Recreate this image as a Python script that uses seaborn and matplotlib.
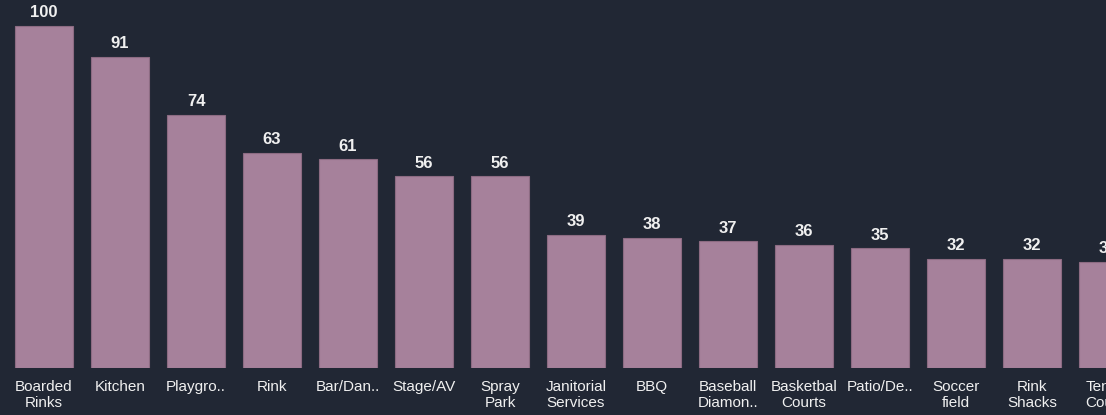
import pandas as pd
import matplotlib
matplotlib.use("Agg")
import matplotlib.pyplot as plt
import matplotlib.transforms as mtransforms
import seaborn as sns

# amenity counts
categories = ["Boarded\nRinks", "Kitchen", "Playgro..", "Rink", "Bar/Dan..",
              "Stage/AV", "Spray\nPark", "Janitorial\nServices", "BBQ",
              "Baseball\nDiamon..", "Basketbal\nCourts", "Patio/De..",
              "Soccer\nfield", "Rink\nShacks", "Tennis\nCourts"]
counts = [100, 91, 74, 63, 61, 56, 56, 39, 38, 37, 36, 35, 32, 32, 31]

bg = "#212734"
bar_color = "#a6819b"
text_color = "#f0f0f0"

sns.set_theme(style="dark")
plt.rcParams["font.family"] = ["Liberation Sans", "DejaVu Sans"]

df = pd.DataFrame({"amenity": categories, "count": counts})

fig = plt.figure(figsize=(11.06, 4.15), dpi=100, facecolor=bg)
ax = fig.add_axes([0, 47 / 415, 1, 368 / 415])
ax.set_facecolor(bg)

sns.barplot(data=df, x="amenity", y="count", color=bar_color, saturation=1,
            width=0.763, edgecolor="#8c6b82", linewidth=0.8, ax=ax)

for i, v in enumerate(counts):
    ax.annotate(str(v), (i, v), xytext=(0, 4), textcoords="offset points",
                ha="center", va="bottom", color=text_color, fontsize=12,
                fontweight="bold", annotation_clip=False)

ax.set_xlim(-44 / 76, (1106 - 44) / 76)
ax.set_ylim(0, 100 * 368 / 342)
ax.set_xlabel("")
ax.set_ylabel("")
ax.set_yticks([])
ax.set_xticks([])

# category labels drawn as text so the one at the cut-off edge still shows
trans = mtransforms.blended_transform_factory(ax.transData, ax.transAxes)
offset = mtransforms.ScaledTranslation(0, -12 / 100, fig.dpi_scale_trans)
for i, name in enumerate(categories):
    ax.text(i, 0, name, transform=trans + offset, ha="center", va="top",
            color=text_color, fontsize=11, linespacing=1.2, clip_on=False)

for s in ax.spines.values():
    s.set_visible(False)
ax.grid(False)

fig.savefig("out.png", dpi=100, facecolor=bg)
